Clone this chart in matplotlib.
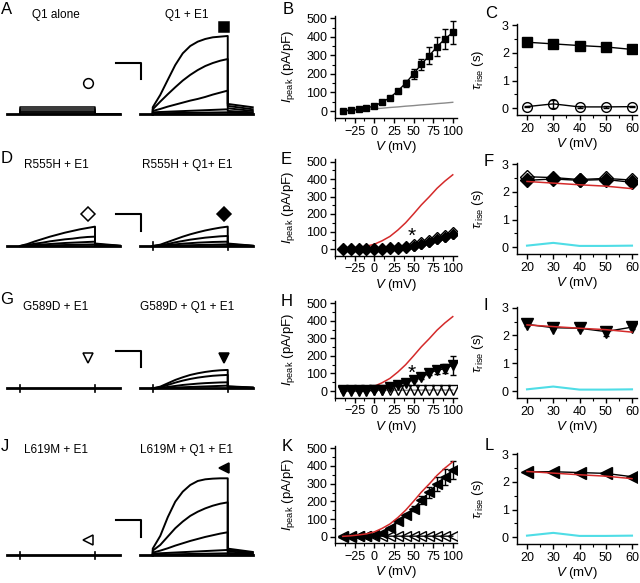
import matplotlib
matplotlib.use('Agg')
import matplotlib.pyplot as plt
import numpy as np
from matplotlib.ticker import MultipleLocator

plt.rcParams['font.family'] = ['Liberation Sans', 'DejaVu Sans']
plt.rcParams['mathtext.fontset'] = 'custom'
plt.rcParams['mathtext.rm'] = 'Liberation Sans'
plt.rcParams['mathtext.it'] = 'Liberation Sans:italic'
plt.rcParams['axes.linewidth'] = 1.0

# ---- I-V data (pA/pF) ----
volts = [-40, -30, -20, -10, 0, 10, 20, 30, 40, 50, 60, 70, 80, 90, 100]
q1e1_iv = [2, 5, 10, 16, 27, 47, 72, 108, 150, 200, 252, 298, 347, 388, 424]
q1e1_err = [2, 2, 3, 3, 4, 5, 8, 12, 18, 27, 30, 45, 50, 54, 63]
q1_iv = [-2, 1, 5, 8, 12, 15, 19, 22, 26, 29, 33, 36, 40, 43, 47]
r555h_e1_iv = [0, 0, 0, 0, 1, 2, 4, 7, 13, 25, 36, 48, 61, 74, 93]
r555h_q1e1_iv = [0, 0, 0, 0, 1, 2, 3, 6, 11, 20, 30, 42, 55, 68, 85]
g589d_e1_iv = [4, 4, 4, 4, 4, 4, 4, 4, 4, 5, 5, 5, 5, 5, 5]
g589d_q1e1_iv = [0, 0, 0, 0, 4, 8, 23, 36, 48, 65, 80, 103, 118, 128, 147]
g589d_q1e1_err = [2, 2, 2, 2, 3, 4, 5, 6, 7, 10, 12, 14, 20, 28, 55]
l619m_e1_iv = [2, 2, 2, 2, 2, 3, 3, 3, 3, 3, 3, 3, 3, 3, 3]
l619m_q1e1_iv = [0, 0, 4, 4, 8, 19, 51, 86, 120, 158, 206, 251, 299, 337, 377]
l619m_q1e1_err = [2, 2, 2, 2, 3, 4, 6, 8, 10, 14, 22, 32, 40, 46, 50]

# ---- activation time constants (s) ----
tau_v = [20, 30, 40, 50, 60]
tau_q1e1 = [2.38, 2.32, 2.26, 2.21, 2.12]
tau_q1e1_err = [0.05, 0.05, 0.05, 0.05, 0.05]
tau_q1 = [0.06, 0.16, 0.05, 0.05, 0.06]
tau_q1_err = [0.03, 0.15, 0.03, 0.03, 0.03]
tau_r555h_e1 = [2.55, 2.52, 2.45, 2.49, 2.43]
tau_r555h_q1e1 = [2.42, 2.47, 2.42, 2.45, 2.35]
tau_g589d_q1e1 = [2.4, 2.28, 2.26, 2.14, 2.3]
tau_g589d_err = [0.05, 0.05, 0.08, 0.15, 0.05]
tau_l619m_q1e1 = [2.37, 2.37, 2.34, 2.31, 2.19]

# ---- current traces (nA), sampled evenly over the 3 s step ----
q1_alone_tr = [[0.42, 0.42], [0.3, 0.3], [0.2, 0.2], [0.12, 0.12], [0.06, 0.06]]
q1_alone_tail = [(0, 0)] * 5
q1e1_tr = [[0.42, 1.16, 2.06, 2.95, 3.65, 4.09, 4.35, 4.51, 4.61, 4.65, 4.69],
           [0.30, 0.76, 1.20, 1.62, 2.02, 2.36, 2.65, 2.89, 3.07, 3.21, 3.31],
           [0.20, 0.32, 0.46, 0.58, 0.70, 0.82, 0.92, 1.04, 1.18, 1.30, 1.42],
           [0.12, 0.30], [0.06, 0.12]]
q1e1_tail = [(0.62, 0.42), (0.5, 0.3), (0.36, 0.2), (0.2, 0.12), (0.1, 0.06)]
r555h_e1_tr = [[0, 0.12, 0.28, 0.42, 0.56, 0.68, 0.8, 0.9, 1.0, 1.08, 1.16],
               [0, 0.06, 0.14, 0.2, 0.28, 0.34, 0.4, 0.44, 0.5, 0.54, 0.56],
               [0, 0.03, 0.06, 0.09, 0.12, 0.15, 0.18, 0.2, 0.22, 0.24, 0.26],
               [0, 0.1]]
r555h_e1_tail = [(0.15, 0.02), (0.1, 0.01), (0.06, 0), (0.03, 0)]
r555h_q1e1_tr = [[0, 0.08, 0.24, 0.4, 0.56, 0.7, 0.82, 0.93, 1.02, 1.1, 1.16],
                 [0, 0.04, 0.12, 0.22, 0.3, 0.38, 0.44, 0.5, 0.54, 0.58, 0.6],
                 [0, 0.02, 0.06, 0.1, 0.14, 0.17, 0.2, 0.22, 0.24, 0.25, 0.26],
                 [0, 0.1]]
r555h_q1e1_tail = [(0.15, 0.02), (0.1, 0.01), (0.06, 0), (0.03, 0)]
g589d_e1_tr = []
g589d_e1_tail = []
g589d_q1e1_tr = [[0, 0.1, 0.3, 0.5, 0.66, 0.8, 0.9, 0.98, 1.04, 1.08, 1.1],
                 [0, 0.06, 0.2, 0.34, 0.46, 0.56, 0.64, 0.7, 0.75, 0.78, 0.8],
                 [0, 0.03, 0.08, 0.14, 0.2, 0.24, 0.28, 0.31, 0.33, 0.35, 0.36],
                 [0, 0.16]]
g589d_q1e1_tail = [(0.12, 0.05), (0.1, 0.04), (0.06, 0.02), (0.03, 0.01)]
l619m_e1_tr = []
l619m_e1_tail = []
l619m_q1e1_tr = [[0.4, 1.16, 2.28, 3.21, 3.81, 4.21, 4.45, 4.55, 4.59, 4.61, 4.61],
                 [0.28, 0.62, 1.12, 1.62, 2.02, 2.36, 2.61, 2.81, 2.97, 3.09, 3.17],
                 [0.16, 0.28, 0.42, 0.58, 0.72, 0.86, 0.98, 1.1, 1.2, 1.3, 1.38],
                 [0.1, 0.32], [0.04, 0.12]]
l619m_q1e1_tail = [(0.4, 0.2), (0.32, 0.16), (0.24, 0.1), (0.14, 0.06), (0.06, 0.02)]

RED = '#d42a2a'
CYAN = '#4fdde6'
GREY = '#8a8a8a'

W, H = 640, 583
fig = plt.figure(figsize=(W / 100, H / 100), dpi=100)


def box(x0, y0, x1, y1):
    return fig.add_axes([x0 / W, 1 - y1 / H, (x1 - x0) / W, (y1 - y0) / H])


def label(x, y, s, size=8.5):
    fig.text(x / W, 1 - y / H, s, fontsize=size, ha='center', va='center')


# ---------- current traces ----------
PULSE, PRE, POST, SHIFT = 3.0, 0.52, 1.0, 5.31
PX_S, PX_NA = 25.0, 16.7


def trace_group(ax, traces, tails, t0, ticks, lw=1.4):
    ax.plot([t0 - PRE, t0 + PULSE + POST], [0, 0], color='k', lw=2.0)
    for vals, (ta, tb) in zip(traces, tails):
        t = t0 + np.linspace(0, PULSE, len(vals))
        x = np.concatenate([[t0], t, [t0 + PULSE, t0 + PULSE + POST]])
        y = np.concatenate([[0], vals, [ta, tb]])
        ax.plot(x, y, color='k', lw=lw)
    if ticks:
        for tt in (t0, t0 + PULSE):
            ax.plot([tt, tt], [-0.22, 0.22], color='k', lw=1.2)


def trace_row(base, left, right, bar_top, titles, title_y, marks, left_lw=1.4):
    ax = box(0, base - 110, 265, base + 15)
    ax.set_xlim(-20 / PX_S, 245 / PX_S)
    ax.set_ylim(-15 / PX_NA, 110 / PX_NA)
    ax.axis('off')
    trace_group(ax, left[0], left[1], 0.0, len(left[0]) == 0, lw=left_lw)
    trace_group(ax, right[0], right[1], SHIFT, 0 < len(right[0]) < 5)
    ax.plot([3.84, 4.84, 4.84], [bar_top, bar_top, bar_top - 1], color='k', lw=1.5)
    (m1, f1, y1), (m2, f2, y2) = marks
    ax.plot(2.72, y1, marker=m1, ms=7, mfc=f1, mec='k', mew=1.1)
    ax.plot(SHIFT + 2.86, y2, marker=m2, ms=7, mfc=f2, mec='k', mew=1.1)
    label(56, title_y, titles[0])
    label(187, title_y, titles[1])


trace_row(114.3, (q1_alone_tr, q1_alone_tail), (q1e1_tr, q1e1_tail), 3.09,
          ('Q1 alone', 'Q1 + E1'), 15, [('o', 'w', 1.89), ('s', 'k', 5.2)], left_lw=1.1)
trace_row(246, (r555h_e1_tr, r555h_e1_tail), (r555h_q1e1_tr, r555h_q1e1_tail), 1.92,
          ('R555H + E1', 'R555H + Q1+ E1'), 165, [('D', 'w', 1.92), ('D', 'k', 1.92)])
trace_row(388.3, (g589d_e1_tr, g589d_e1_tail), (g589d_q1e1_tr, g589d_q1e1_tail), 2.25,
          ('G589D + E1', 'G589D + Q1 + E1'), 306.7, [('v', 'w', 1.83), ('v', 'k', 1.83)])
trace_row(555.3, (l619m_e1_tr, l619m_e1_tail), (l619m_q1e1_tr, l619m_q1e1_tail), 2.11,
          ('L619M + E1', 'L619M + Q1 + E1'), 450, [('<', 'w', 0.92), ('<', 'k', 5.2)])


# ---------- I-V panels ----------
def style(ax):
    for s in ('top', 'right'):
        ax.spines[s].set_visible(False)
    ax.tick_params(which='major', direction='out', length=3.5, width=1, labelsize=9, pad=2)
    ax.tick_params(which='minor', direction='out', length=2, width=0.8)


def iv_axes(y0, y500):
    s = (y0 - y500) / 500
    ax = box(335, y0 - 515 * s, 335 + 156 * 0.785, y0 + 38 * s)
    ax.set_xlim(-50, 106)
    ax.set_ylim(-38, 515)
    ax.xaxis.set_minor_locator(MultipleLocator(12.5))
    ax.set_xticks([-25, 0, 25, 50, 75, 100])
    ax.yaxis.set_major_locator(MultipleLocator(100))
    ax.yaxis.set_minor_locator(MultipleLocator(50))
    style(ax)
    ax.set_xlabel(r'$V$ (mV)', fontsize=9.5, labelpad=1)
    ax.set_ylabel(r'$I_{\rm peak}$ (pA/pF)', fontsize=9.5)
    ax.yaxis.set_label_coords(-0.31, 0.5)
    return ax


def tau_axes(y0, y3):
    s = (y0 - y3) / 3
    ax = box(516.5, y0 - 3.03 * s, 516.5 + 46 * 2.625, y0 + 0.25 * s)
    ax.set_xlim(16, 62)
    ax.set_ylim(-0.25, 3.03)
    ax.xaxis.set_minor_locator(MultipleLocator(5))
    ax.set_xticks([20, 30, 40, 50, 60])
    ax.yaxis.set_major_locator(MultipleLocator(1))
    ax.yaxis.set_minor_locator(MultipleLocator(0.5))
    style(ax)
    ax.set_xlabel(r'$V$ (mV)', fontsize=9.5, labelpad=1)
    ax.set_ylabel(r'$\tau_{\rm rise}$ (s)', fontsize=9.5)
    ax.yaxis.set_label_coords(-0.25, 0.5)
    return ax


def series(ax, x, y, marker, fc, ms, err=None, lc='k'):
    ax.plot(x, y, color=lc, lw=1.0, zorder=2)
    if err is not None:
        ax.errorbar(x, y, yerr=err, fmt='none', ecolor='k', elinewidth=1, capsize=2, zorder=3)
    ax.plot(x, y, ls='none', marker=marker, ms=ms, mfc=fc, mec='k', mew=1, zorder=4)


# B
ax = iv_axes(111, 18.3)
ax.plot(volts, q1_iv, color=GREY, lw=1)
series(ax, volts, q1e1_iv, 's', 'k', 5, q1e1_err)
# E
ax = iv_axes(249, 161.5)
ax.plot(volts, q1e1_iv, color=RED, lw=1.1)
series(ax, volts, r555h_q1e1_iv, 'D', 'k', 5.5)
series(ax, volts, r555h_e1_iv, 'D', 'none', 6.5)
ax.text(48, 72, '*', fontsize=15, ha='center', va='center')
# H
ax = iv_axes(391, 303.3)
ax.plot(volts, q1e1_iv, color=RED, lw=1.1)
series(ax, volts, g589d_e1_iv, 'v', 'none', 6.5, lc=GREY)
series(ax, volts, g589d_q1e1_iv, 'v', 'k', 7, g589d_q1e1_err)
ax.text(48, 100, '*', fontsize=15, ha='center', va='center')
# K
ax = iv_axes(536.7, 448.3)
ax.plot(volts, q1e1_iv, color=RED, lw=1.1, zorder=5)
series(ax, volts, l619m_e1_iv, '<', 'none', 6.5)
series(ax, volts, l619m_q1e1_iv, '<', 'k', 7, l619m_q1e1_err)

# C
ax = tau_axes(108.3, 25)
series(ax, tau_v, tau_q1e1, 's', 'k', 7.5, tau_q1e1_err)
series(ax, tau_v, tau_q1, 'o', 'none', 7, tau_q1_err)
# F
ax = tau_axes(247.3, 164.3)
ax.plot(tau_v, tau_q1, color=CYAN, lw=1.5)
series(ax, tau_v, tau_r555h_e1, 'D', 'none', 7)
series(ax, tau_v, tau_r555h_q1e1, 'D', 'k', 7)
ax.plot(tau_v, tau_q1e1, color=RED, lw=1.1, zorder=5)
# I
ax = tau_axes(391, 307.7)
ax.plot(tau_v, tau_q1, color=CYAN, lw=1.5)
series(ax, tau_v, tau_g589d_q1e1, 'v', 'k', 8, tau_g589d_err)
ax.plot(tau_v, tau_q1e1, color=RED, lw=1.1, zorder=5)
# L
ax = tau_axes(537.3, 454.3)
ax.plot(tau_v, tau_q1, color=CYAN, lw=1.5)
series(ax, tau_v, tau_l619m_q1e1, '<', 'k', 8)
ax.plot(tau_v, tau_q1e1, color=RED, lw=1.1, zorder=5)

# panel letters
for s, x, y in [('A', 7, 9), ('B', 288, 9.5), ('C', 491, 14),
                ('D', 7, 158), ('E', 286, 160), ('F', 489, 162),
                ('G', 7, 300), ('H', 287, 301.7), ('I', 486, 306),
                ('J', 5, 446.7), ('K', 287, 446.7), ('L', 489, 445)]:
    label(x, y, s, size=12)

fig.savefig('out.png', dpi=100)
